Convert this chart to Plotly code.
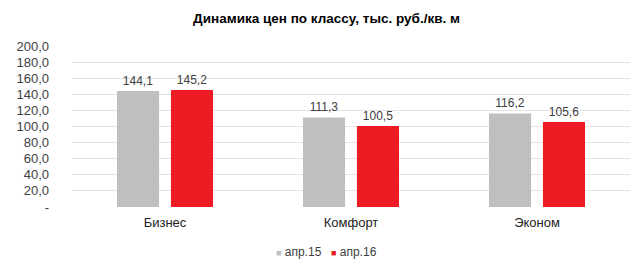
import plotly.graph_objects as go

categories = ["Бизнес", "Комфорт", "Эконом"]
apr15 = [144.1, 111.3, 116.2]
apr16 = [145.2, 100.5, 105.6]
series_names = ["апр.15", "апр.16"]
series_colors = ["#BFBFBF", "#ED1C24"]
y_ticks = [0, 20, 40, 60, 80, 100, 120, 140, 160, 180, 200]


def ru_num(v):
    return f"{v:.1f}".replace(".", ",")


y_ticktext = ["-" if v == 0 else ru_num(v) for v in y_ticks]

font_family = "Liberation Sans, Arial, sans-serif"

fig = go.Figure()
for name, vals, color in zip(series_names, [apr15, apr16], series_colors):
    fig.add_trace(go.Bar(
        x=categories,
        y=vals,
        name=name,
        marker=dict(color=color, line=dict(width=0)),
        text=[ru_num(v) for v in vals],
        textposition="outside",
        textfont=dict(family=font_family, size=12, color="#404040"),
        cliponaxis=False,
        showlegend=False,
    ))

# compact legend below the axis: one small square + name per series
plot_left, plot_width = 72, 558
legend_left_px = [274, 329]
for name, color, left in zip(series_names, series_colors, legend_left_px):
    fig.add_annotation(
        text=f"<span style='font-size:9px;color:{color}'>■</span> {name}",
        xref="paper",
        yref="paper",
        x=(left - plot_left) / plot_width,
        y=-(252 - 207) / 161,
        xanchor="left",
        yanchor="middle",
        showarrow=False,
        font=dict(family=font_family, size=12, color="#404040"),
    )

fig.update_layout(
    width=644,
    height=261,
    margin=dict(l=72, r=14, t=46, b=54, autoexpand=False),
    paper_bgcolor="white",
    plot_bgcolor="white",
    barmode="group",
    bargap=0.42,
    bargroupgap=0.22,
    title=dict(
        text="<b>Динамика цен по классу, тыс. руб./кв. м</b>",
        x=0.507,
        xanchor="center",
        y=0.93,
        yanchor="middle",
        font=dict(family=font_family, size=13.5, color="#000000"),
    ),
    showlegend=False,
    font=dict(family=font_family),
)

fig.update_yaxes(
    range=[0, 200],
    tickvals=y_ticks,
    ticktext=y_ticktext,
    tickfont=dict(family=font_family, size=13, color="#404040"),
    showgrid=True,
    gridcolor="#E3E3E3",
    gridwidth=1,
    zeroline=False,
    showline=False,
    ticks="",
    ticklabelstandoff=22,
    automargin=False,
)
fig.update_xaxes(
    tickfont=dict(family=font_family, size=13, color="#222222"),
    showline=False,
    ticks="",
    ticklabelstandoff=6,
    automargin=False,
)

fig.write_html("out.html")
